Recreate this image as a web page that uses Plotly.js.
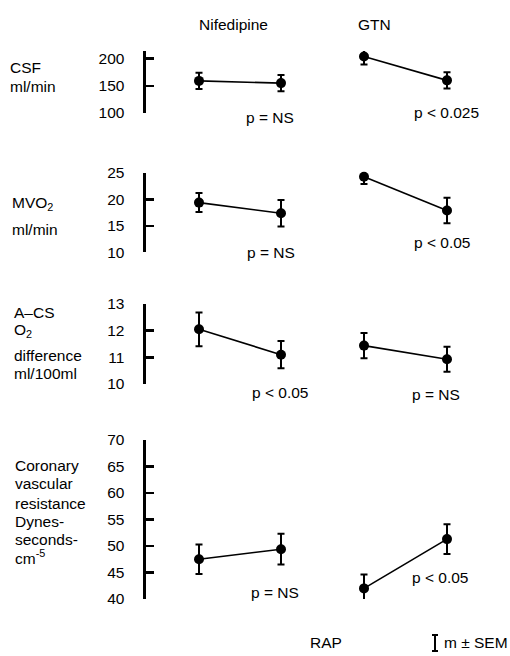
<!DOCTYPE html>
<html>
<head>
<meta charset="utf-8">
<script src="https://cdn.plot.ly/plotly-3.0.1.min.js"></script>
<style>html,body{margin:0;padding:0;background:#fff;}#chart{width:510px;height:656px;}</style>
</head>
<body>
<div id="chart"></div>
<script>
// ---- data ----
var stages = ['Control', 'RAP'];
var drugs = ['Nifedipine', 'GTN'];

var csfNif = [159, 155];
var csfNifErr = [15, 15];
var csfGtn = [204, 160];
var csfGtnErr = [15, 15];

var mvo2Nif = [19.4, 17.4];
var mvo2NifErr = [1.8, 2.5];
var mvo2Gtn = [24.3, 17.9];
var mvo2GtnErr = [1.4, 2.4];

var acsNif = [12.05, 11.1];
var acsNifErr = [0.63, 0.51];
var acsGtn = [11.44, 10.93];
var acsGtnErr = [0.47, 0.47];

var cvrNif = [47.5, 49.4];
var cvrNifErr = [2.8, 2.9];
var cvrGtn = [42.0, 51.3];
var cvrGtnErr = [2.6, 2.8];

var csfTicks = [100, 150, 200];
var mvo2Ticks = [10, 15, 20, 25];
var acsTicks = [10, 11, 12, 13];
var cvrTicks = [40, 45, 50, 55, 60, 65, 70];

var pNif = ['p = NS', 'p = NS', 'p &lt; 0.05', 'p = NS'];
var pGtn = ['p &lt; 0.025', 'p &lt; 0.05', 'p = NS', 'p &lt; 0.05'];

// ---- layout helpers ----
var W = 510, H = 656;
function px(x) { return x / W; }
function py(y) { return 1 - y / H; }
var FONT = 'Liberation Sans, Arial, Helvetica, sans-serif';

function mk(xa, ya, vals, errs) {
  return {
    type: 'scatter', mode: 'lines+markers', x: stages, y: vals,
    xaxis: xa, yaxis: ya, cliponaxis: false, showlegend: false,
    line: {color: '#000', width: 1.6},
    marker: {color: '#000', size: 10},
    error_y: {type: 'data', array: errs, visible: true, color: '#000', thickness: 2, width: 3.5}
  };
}

var data = [
  mk('x', 'y', csfNif, csfNifErr), mk('x2', 'y', csfGtn, csfGtnErr),
  mk('x', 'y2', mvo2Nif, mvo2NifErr), mk('x2', 'y2', mvo2Gtn, mvo2GtnErr),
  mk('x', 'y3', acsNif, acsNifErr), mk('x2', 'y3', acsGtn, acsGtnErr),
  mk('x', 'y4', cvrNif, cvrNifErr), mk('x2', 'y4', cvrGtn, cvrGtnErr)
];

function yax(top, bottom, range, ticks) {
  return {
    domain: [py(bottom), py(top)], range: range, anchor: 'free', position: px(143.5),
    showline: true, linecolor: '#000', linewidth: 3.5, mirror: false,
    ticks: 'inside', ticklen: 8, tickwidth: 2.5, tickcolor: '#000',
    tickvals: ticks, ticktext: ticks.map(String), showgrid: false, zeroline: false,
    tickfont: {family: FONT, size: 15.5, color: '#000'}, ticklabelstandoff: 15, fixedrange: true
  };
}
function xax(l, r, anchor) {
  return {
    domain: [px(l), px(r)], type: 'category', range: [-0.5, 1.5], anchor: anchor,
    visible: false, showgrid: false, zeroline: false, fixedrange: true
  };
}

var annotations = [];
function txt(s, x, y, xanchor) {
  annotations.push({text: s, x: px(x), y: py(y), xref: 'paper', yref: 'paper',
    xanchor: xanchor || 'center', yanchor: 'middle', showarrow: false,
    font: {family: FONT, size: 15.5, color: '#000'}});
}
txt(drugs[0], 233, 24);
txt(drugs[1], 374, 24);

// row labels
txt('CSF', 8, 67, 'left'); txt('ml/min', 8, 86, 'left');
txt('MVO<sub>2</sub>', 10, 203, 'left'); txt('ml/min', 10, 229, 'left');
txt('A\u2013CS', 12, 313, 'left'); txt('O<sub>2</sub>', 12, 331, 'left');
txt('difference', 12, 355, 'left'); txt('ml/100ml', 12, 373, 'left');
txt('Coronary', 13, 465, 'left'); txt('vascular', 13, 483, 'left');
txt('resistance', 13, 503, 'left'); txt('Dynes-', 13, 521, 'left');
txt('seconds-', 13, 539, 'left'); txt('cm<sup>-5</sup>', 13, 557, 'left');

// p values
var pNifPos = [[270, 117], [271, 252], [280, 392], [275, 592]];
var pGtnPos = [[446, 112], [442, 242], [436, 394], [440, 577]];
for (var i = 0; i < 4; i++) {
  txt(pNif[i], pNifPos[i][0], pNifPos[i][1]);
  txt(pGtn[i], pGtnPos[i][0], pGtnPos[i][1]);
}
txt(stages[1], 326, 642);
txt('m \u00b1 SEM', 442, 642, 'left');

var shapes = [
  {type: 'line', xref: 'paper', yref: 'paper', x0: px(435), x1: px(435), y0: py(635), y1: py(651), line: {color: '#000', width: 2}},
  {type: 'line', xref: 'paper', yref: 'paper', x0: px(432), x1: px(438), y0: py(635), y1: py(635), line: {color: '#000', width: 2}},
  {type: 'line', xref: 'paper', yref: 'paper', x0: px(432), x1: px(438), y0: py(651), y1: py(651), line: {color: '#000', width: 2}}
];

var layout = {
  width: W, height: H, margin: {l: 0, r: 0, t: 0, b: 0},
  paper_bgcolor: '#fff', plot_bgcolor: 'rgba(0,0,0,0)', showlegend: false,
  font: {family: FONT, size: 15.5, color: '#000'},
  xaxis: xax(158, 322, 'y4'), xaxis2: xax(322.5, 488.5, 'y4'),
  yaxis: yax(51, 113, [100, 214], csfTicks),
  yaxis2: yax(173, 252.3, [10, 25], mvo2Ticks),
  yaxis3: yax(304, 384, [10, 13], acsTicks),
  yaxis4: yax(440, 599, [40, 70], cvrTicks),
  annotations: annotations, shapes: shapes
};

Plotly.newPlot('chart', data, layout, {displayModeBar: false, staticPlot: true});
</script>
</body>
</html>
